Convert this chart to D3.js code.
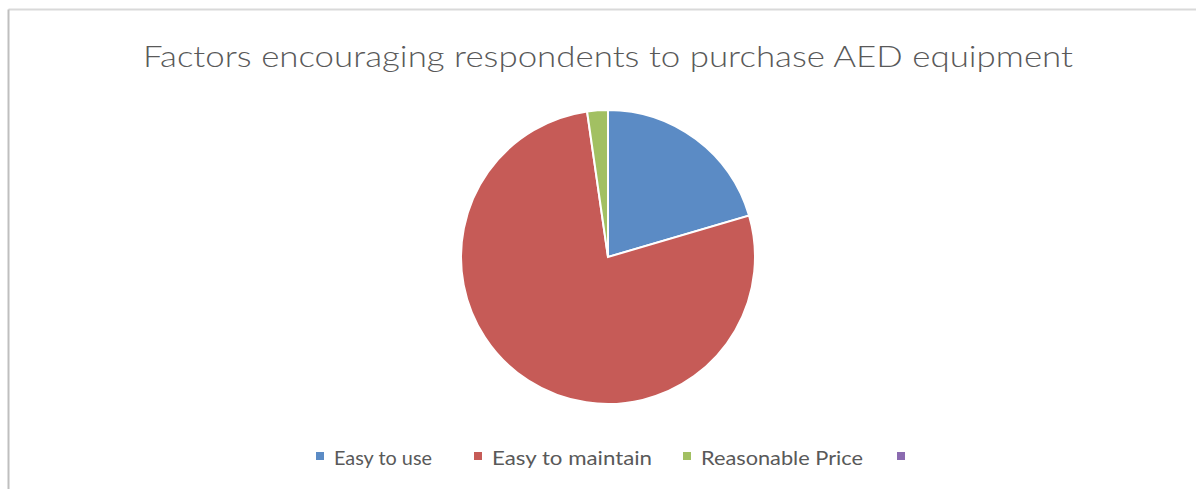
<!DOCTYPE html>
<html>
<head>
<meta charset="utf-8">
<script src="https://cdn.jsdelivr.net/npm/d3@7"></script>
<style>
  body { margin: 0; background: #fff; }
  svg { display: block; }
</style>
</head>
<body>
<div id="wrapper"></div>
<script>
// chart data
const categories = ["Easy to use", "Easy to maintain", "Reasonable Price", ""];
const counts = [9, 34, 1, 0];
const colors = ["#5B8BC5", "#C65B57", "#A2C062", "#8B6BB0"];
const title = "Factors encouraging respondents to purchase AED equipment";

const width = 1196, height = 489;
const font = "Lato, 'Open Sans', sans-serif";

const svg = d3.select("#wrapper").append("svg")
    .attr("width", width)
    .attr("height", height);

// frame (only top and left edges show in the picture)
svg.append("line").attr("x1", 8.5).attr("x2", width).attr("y1", 9.5).attr("y2", 9.5)
    .attr("stroke", "#d9d9d9").attr("stroke-width", 2);
svg.append("line").attr("x1", 8.5).attr("x2", 8.5).attr("y1", 9.5).attr("y2", height)
    .attr("stroke", "#bfbfbf").attr("stroke-width", 2);

svg.append("text")
    .attr("x", 143)
    .attr("y", 67)
    .attr("font-family", font)
    .attr("font-weight", 300)
    .attr("font-size", 30)
    .attr("textLength", 930)
    .attr("lengthAdjust", "spacingAndGlyphs")
    .attr("fill", "#595959")
    .text(title);

const data = categories.map((c, i) => ({ name: c, value: counts[i], color: colors[i] }));

const pie = d3.pie().sort(null).value(d => d.value);
const arc = d3.arc().innerRadius(0).outerRadius(147);

const g = svg.append("g").attr("transform", "translate(608,257)");
g.selectAll("path")
    .data(pie(data).filter(d => d.data.value > 0))
    .enter()
    .append("path")
    .attr("d", arc)
    .attr("fill", d => d.data.color)
    .attr("stroke", "#fff")
    .attr("stroke-width", 2);

// legend
const legendX = [316, 474, 683, 897];
const legendW = [98, 160, 162, 0];
const legend = svg.append("g");
data.forEach((d, i) => {
    legend.append("rect")
        .attr("x", legendX[i])
        .attr("y", 452)
        .attr("width", 8)
        .attr("height", 8)
        .attr("fill", d.color);
    if (d.name) {
        legend.append("text")
            .attr("x", legendX[i] + 18)
            .attr("y", 465)
            .attr("font-family", font)
            .attr("font-size", 20)
            .attr("textLength", legendW[i])
            .attr("lengthAdjust", "spacingAndGlyphs")
            .attr("fill", "#595959")
            .text(d.name);
    }
});
</script>
</body>
</html>
